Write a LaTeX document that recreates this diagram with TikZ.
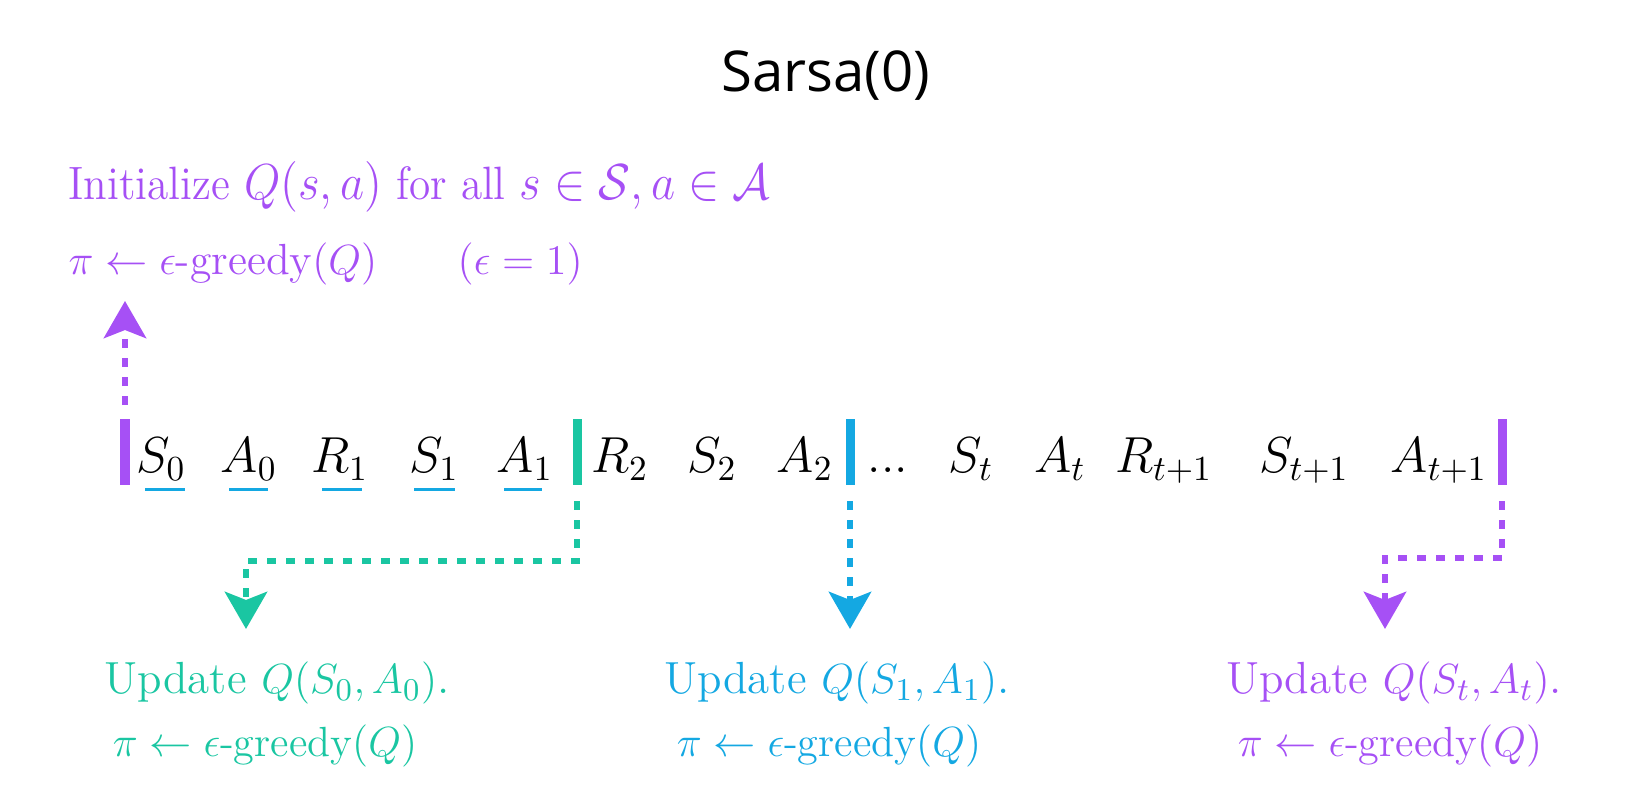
\documentclass[tikz,border=0pt]{standalone}
\usepackage{amsmath,amssymb}
\usepackage{fontspec}
\newfontfamily\titlefont{Open Sans}
\usetikzlibrary{arrows.meta}
\definecolor{Purp}{RGB}{166,80,245}
\definecolor{Teal}{RGB}{26,198,162}
\definecolor{Sky}{RGB}{20,168,226}
\tikzstyle{Seq}=[inner sep=0, anchor=base, font=\fontsize{14}{16}\selectfont]
\tikzstyle{Note}=[inner sep=0, anchor=base, font=\fontsize{12}{14}\selectfont]
\tikzstyle{Head}=[Note, font=\fontsize{12.8}{15}\selectfont]
\tikzstyle{Bar}=[rectangle, minimum width=0.09cm, minimum height=0.65cm, inner sep=0]
\tikzstyle{Link}=[line width=0.065cm, dash pattern=on 0.09cm off 0.1cm, -{Stealth[length=0.37cm, width=0.42cm, inset=0.08cm]}]
\tikzstyle{Under}=[Sky, line width=0.03cm]

\begin{document}
\begin{tikzpicture}[x=0.01cm, y=-0.01cm]
    \useasboundingbox (0,0) rectangle (1629,792);
    \node[anchor=base, inner sep=0, font=\titlefont\fontsize{16}{19}\selectfont] (title) at (826,92) {Sarsa(0)};

    \path
    (68,200) node[Note, anchor=base west, Purp, font=\fontsize{13.3}{15}\selectfont] (init) {\scalebox{0.925}[1]{Initialize $Q(s,a)$ for all $s\in\mathcal{S}, a\in\mathcal{A}$}}
    (68,275) node[Note, anchor=base west, Purp, font=\fontsize{12.4}{14}\selectfont] (pol) {$\pi\leftarrow\epsilon\text{-greedy}(Q)$}
    (457,275) node[Note, anchor=base west, Purp, font=\fontsize{12.4}{14}\selectfont] (eps) {$(\epsilon=1)$};

    \path
    (125,452) node[Bar, fill=Purp] (bar0) {}
    (577,452) node[Bar, fill=Teal] (bar1) {}
    (850,452) node[Bar, fill=Sky] (bar2) {}
    (1502,452) node[Bar, fill=Purp] (bar3) {};

    \path
    (161,473) node[Seq] (s0) {$S_0$}
    (249,473) node[Seq] (a0) {$A_0$}
    (340,473) node[Seq] (r1) {$R_1$}
    (434,473) node[Seq] (s1) {$S_1$}
    (525,473) node[Seq] (a1) {$A_1$}
    (620,473) node[Seq] (r2) {$R_2$}
    (712,473) node[Seq] (s2) {$S_2$}
    (805,473) node[Seq] (a2) {$A_2$}
    (888,473) node[Seq] (dots) {...}
    (971,473) node[Seq] (st) {$S_t$}
    (1060,473) node[Seq] (at) {$A_t$}
    (1164,473) node[Seq] (rt) {$R_{t+1}$}
    (1304,473) node[Seq] (st1) {$S_{t+1}$}
    (1439,473) node[Seq] (at1) {$A_{t+1}$};

    % blue marks under the first step
    \draw[Under] (145,490) -- (185,490);
    \draw[Under] (229,490) -- (268,490);
    \draw[Under] (322,490) -- (362,490);
    \draw[Under] (414,490) -- (455,490);
    \draw[Under] (504,490) -- (542,490);

    \path
    (277,694) node[Head, Teal] (upd0) {Update $Q(S_0,A_0)$.}
    (265,757) node[Note, Teal] (grd0) {$\pi\leftarrow\epsilon\text{-greedy}(Q)$}
    (837,694) node[Head, Sky] (upd1) {Update $Q(S_1,A_1)$.}
    (829,757) node[Note, Sky] (grd1) {$\pi\leftarrow\epsilon\text{-greedy}(Q)$}
    (1394,694) node[Head, Purp] (upd2) {Update $Q(S_t,A_t)$.}
    (1390,757) node[Note, Purp] (grd2) {$\pi\leftarrow\epsilon\text{-greedy}(Q)$};

    \coordinate (top0) at (125,301);
    \coordinate (turn1) at (246,561);
    \coordinate (end1) at (246,629);
    \coordinate (end2) at (850,629);
    \coordinate (turn3) at (1385,558);
    \coordinate (end3) at (1385,629);

    \draw[Link, Purp] ([yshift=0.14cm]bar0.north) -- (top0);
    \draw[Link, Teal] ([yshift=-0.16cm]bar1.south) |- (turn1) -- (end1);
    \draw[Link, Sky] ([yshift=-0.16cm]bar2.south) -- (end2);
    \draw[Link, Purp] ([yshift=-0.16cm]bar3.south) |- (turn3) -- (end3);
\end{tikzpicture}
\end{document}
